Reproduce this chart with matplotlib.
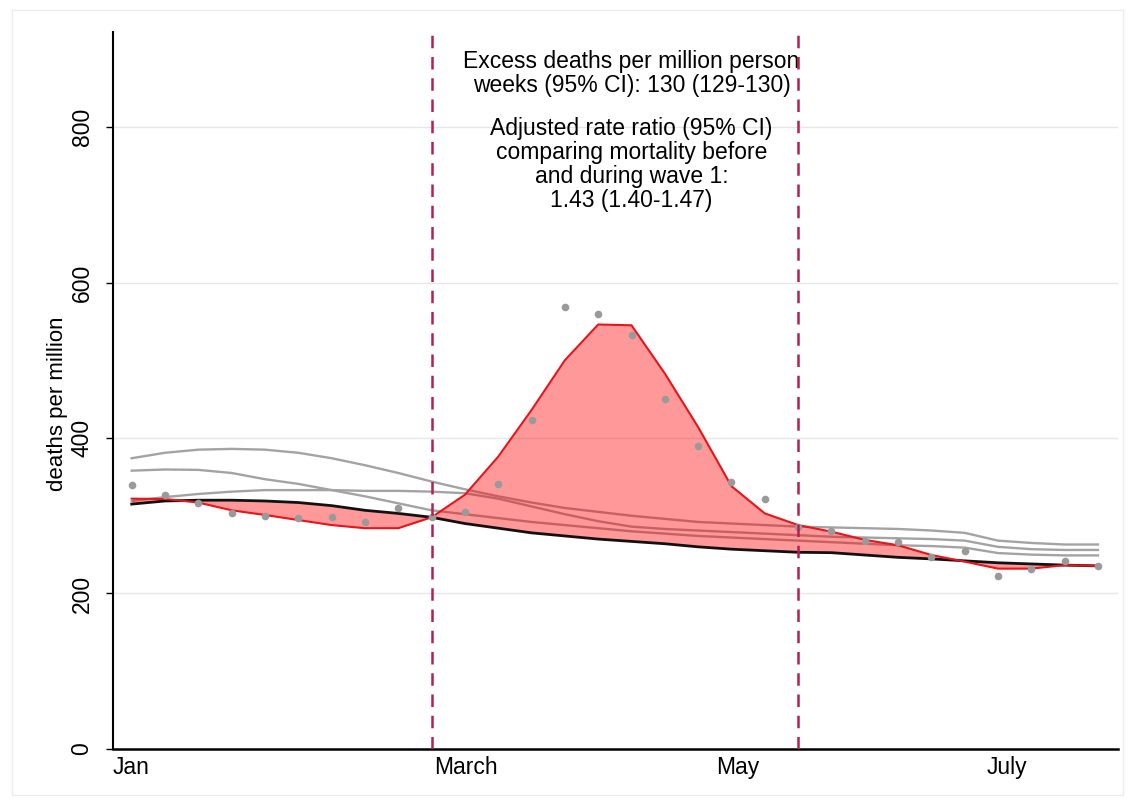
import matplotlib
matplotlib.use('Agg')
import matplotlib.pyplot as plt
import numpy as np

plt.rcParams['font.family'] = ['Liberation Sans', 'DejaVu Sans']

weeks = np.arange(1, 31)

observed = [340, 327, 316, 303, 300, 297, 298, 292, 310, 298,
            305, 341, 423, 568, 560, 532, 450, 390, 343, 322,
            285, 281, 267, 266, 247, 255, 222, 232, 242, 235]

fitted = [322, 321.5, 317, 307, 301, 294.5, 288, 284, 284, 298,
          327, 376, 436, 500, 546, 545, 483, 414, 338, 303,
          288, 279.5, 269, 262, 249.5, 241, 232, 232, 236.5, 235.5]

baseline = [315, 319, 320, 320, 319, 317, 313, 307, 303, 298,
            290, 284, 278, 274, 270, 267, 264, 260, 257, 255,
            253, 252.5, 249.5, 246.5, 244.5, 242, 239.5, 238, 236.5, 235.5]

# earlier years
grey_lines = [
    [374, 381, 385, 386, 385, 381, 374, 365, 355, 344,
     334, 325, 317, 310, 305, 300, 296, 292, 290, 288,
     286, 285, 284, 283, 281, 278, 268, 265, 263, 263],
    [358, 359.5, 359, 355, 347, 341, 333, 325, 316, 307,
     302, 297, 292, 288, 284, 280, 277, 274, 272, 270,
     268, 266, 264, 262, 261, 259, 252, 250, 249, 249],
    [319, 324, 328, 331, 333, 333, 333, 332, 332, 331,
     329, 322, 312, 302, 293, 286, 283, 281, 279, 277,
     275, 273, 272, 271, 270, 268, 260, 257, 256, 256],
]

wave_start = 10
wave_end = 21

tick_pos = [0.44, 10.09, 18.55, 26.65]
tick_labels = ['Jan', 'March', 'May', 'July']

text1 = 'Excess deaths per million person\nweeks (95% CI): 130 (129-130)'
text2 = ('Adjusted rate ratio (95% CI)\ncomparing mortality before\n'
         'and during wave 1:\n1.43 (1.40-1.47)')

fig = plt.figure(figsize=(11.35, 8.05), dpi=100)
ax = fig.add_axes([0.0996, 0.0696, 0.8854, 0.8904])

fig.patches.append(plt.Rectangle((0.011, 0.012), 0.978, 0.976, transform=fig.transFigure,
                                 fill=False, edgecolor='#ececec', lw=1))

for y in [200, 400, 600, 800]:
    ax.axhline(y, color='#e6e6e6', lw=1, zorder=0)

for g in grey_lines:
    ax.plot(weeks, g, color='#a3a3a3', lw=1.7, zorder=1)

ax.fill_between(weeks, baseline, fitted, color='#ff0000', alpha=0.4, lw=0, zorder=2)
ax.plot(weeks, baseline, color='#111111', lw=2, zorder=3)
ax.plot(weeks, fitted, color='#e8141a', lw=1.5, zorder=4)
ax.plot(weeks, observed, 'o', color='#9a9a9a', ms=5.5, mec='none', zorder=5)

for w in [wave_start, wave_end]:
    ax.axvline(w, color='#b5204f', lw=1.8, ls=(0, (5, 3.5)), zorder=6)

ax.text(16, 869, text1, ha='center', va='center', fontsize=16.5, linespacing=1.05)
ax.text(16, 752, text2, ha='center', va='center', fontsize=16.5, linespacing=1.05)

ax.set_xlim(0.47, 30.6)
ax.set_ylim(0, 922)
ax.set_yticks([0, 200, 400, 600, 800])
ax.set_yticklabels(['0', '200', '400', '600', '800'], rotation=90, va='center', fontsize=16.5)
ax.set_xticks(tick_pos)
ax.set_xticklabels(tick_labels, ha='left', fontsize=16.5)
ax.tick_params(axis='x', length=0, pad=5)
ax.tick_params(axis='y', length=5, width=1, pad=9)
ax.set_ylabel('deaths per million', fontsize=16)
ax.yaxis.set_label_coords(-0.045, 0.481)

for s in ['top', 'right']:
    ax.spines[s].set_visible(False)
ax.spines['left'].set_linewidth(1.5)
ax.spines['bottom'].set_linewidth(1.8)

fig.savefig('out.png', dpi=100)
